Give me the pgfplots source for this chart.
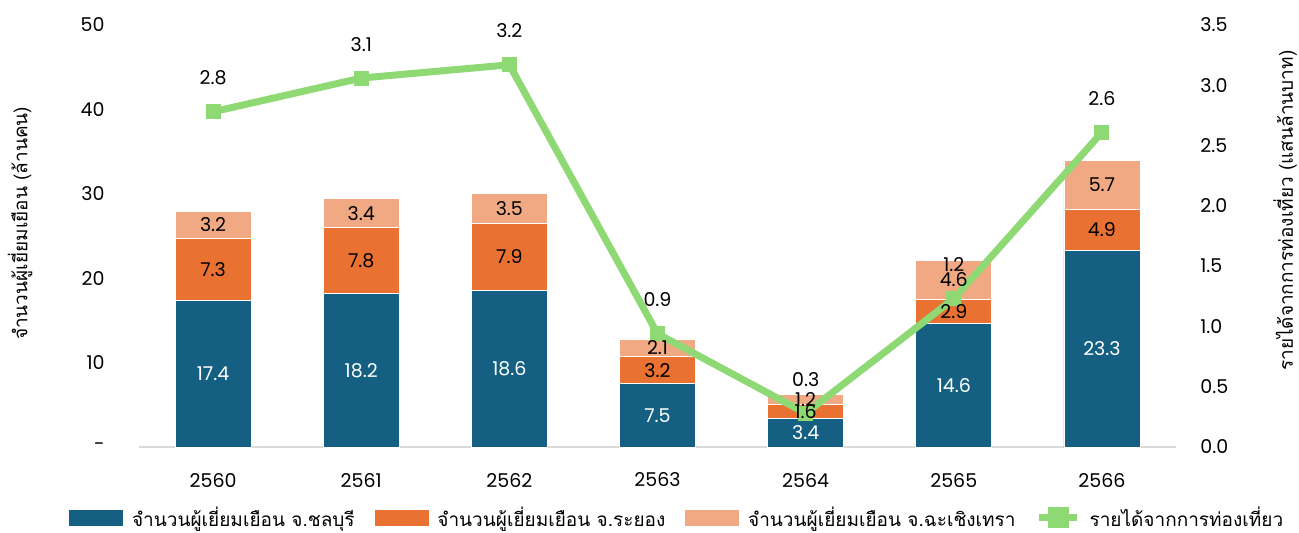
\documentclass[border=0pt]{standalone}
\usepackage{fontspec}
\usepackage{pgfplots}
\usepackage{pgfplotstable}
\pgfplotsset{compat=1.18}
\setmainfont{Poppins}
\newfontfamily\thaifont[Script=Thai]{Loma}
\newcommand\f{\fontsize{9.5pt}{11pt}\selectfont}
\definecolor{c1}{HTML}{156082}
\definecolor{c2}{HTML}{E97132}
\definecolor{c3}{HTML}{F1A983}
\definecolor{c4}{HTML}{8ED973}
\definecolor{ax}{HTML}{D9D9D9}
\pgfplotstableread{
x a b c r
0 17.4 7.3 3.2 2.78
1 18.2 7.8 3.4 3.06
2 18.6 7.9 3.5 3.17
3 7.5 3.2 2.1 0.94
4 3.4 1.6 1.2 0.28
5 14.6 2.9 4.6 1.23
6 23.3 4.9 5.7 2.61
}\data
\pgfplotstablecreatecol[expr={\thisrow{a}/2}]{ya}{\data}
\pgfplotstablecreatecol[expr={\thisrow{a}+\thisrow{b}/2}]{yb}{\data}
\pgfplotstablecreatecol[expr={\thisrow{a}+\thisrow{b}+\thisrow{c}/2}]{yc}{\data}
\pgfplotsset{
  base/.style={scale only axis, width=518.5pt, height=211pt, at={(0,0)}, anchor=south west,
    xmin=-0.5, xmax=6.5, major tick length=0pt},
  lbl/.style={nodes near coords={\pgfmathprintnumber[fixed,fixed zerofill,precision=1,assume math mode=true]{\pgfplotspointmeta}},
    every node near coord/.append style={anchor=center, font=\f, inner sep=0pt}},
}
\begin{document}
\begin{tikzpicture}
\useasboundingbox (-69.5pt,-42.5pt) rectangle (580pt,223.5pt);
\begin{axis}[base,
  ymin=0, ymax=50,
  ybar stacked, bar width=38pt,
  axis x line*=bottom, axis y line*=left,
  x axis line style={draw=ax, line width=1pt, -},
  y axis line style={draw=none},
  xtick={0,...,6}, xticklabels={2560,2561,2562,2563,2564,2565,2566},
  ytick={0,10,...,50}, yticklabels={{-\hspace{7pt}},10,20,30,40,50},
  tick label style={font=\f, inner sep=0pt},
  xticklabel style={anchor=center, yshift=-16.5pt},
  yticklabel style={anchor=east, xshift=-17pt},
  every axis y label/.style={at={(axis description cs:0,0.53)}, rotate=90, anchor=center, yshift=59.5pt},
  ylabel={\f\thaifont จำนวนผู้เยี่ยมเยือน (ล้านคน)},
]
\addplot[fill=c1, draw=white, line width=0.4pt] table[x=x,y=a]{\data};
\addplot[fill=c2, draw=white, line width=0.4pt] table[x=x,y=b]{\data};
\addplot[fill=c3, draw=white, line width=0.4pt] table[x=x,y=c]{\data};
\end{axis}
\begin{axis}[base,
  ymin=0, ymax=3.5,
  axis x line=none, axis y line*=right,
  y axis line style={draw=none},
  ytick={0,0.5,...,3.5},
  yticklabel style={font=\f, inner sep=0pt, anchor=west, xshift=12pt,
    /pgf/number format/.cd, fixed, fixed zerofill, precision=1, assume math mode=true},
  every axis y label/.style={at={(axis description cs:1,0.56)}, rotate=90, anchor=center, yshift=-54.5pt},
  ylabel={\f\thaifont รายได้จากการท่องเที่ยว (แสนล้านบาท)},
  legend style={at={(axis description cs:0.52,-0.168)}, anchor=center, draw=none, fill=none,
    font=\f\thaifont, legend columns=4, inner sep=0pt,
    /tikz/every even column/.append style={column sep=8pt},
    /tikz/every odd column/.append style={column sep=2.5pt}},
  legend cell align=left,
]
\addlegendimage{legend image code/.code={\fill[c1] (0pt,-3.75pt) rectangle (26.5pt,3.75pt);}}
\addlegendentry{จำนวนผู้เยี่ยมเยือน จ.ชลบุรี}
\addlegendimage{legend image code/.code={\fill[c2] (0pt,-3.75pt) rectangle (26.5pt,3.75pt);}}
\addlegendentry{จำนวนผู้เยี่ยมเยือน จ.ระยอง}
\addlegendimage{legend image code/.code={\fill[c3] (0pt,-3.75pt) rectangle (26.5pt,3.75pt);}}
\addlegendentry{จำนวนผู้เยี่ยมเยือน จ.ฉะเชิงเทรา}
\addplot[c4, line width=3.5pt, mark=square*, mark size=3.5pt, mark options={solid, line width=0pt, fill=c4},
  legend image code/.code={\draw[c4, line width=3.5pt] (0pt,0pt) -- (19pt,0pt); \fill[c4] (6pt,-3.5pt) rectangle (13pt,3.5pt);},
  lbl, point meta=explicit, every node near coord/.append style={black, yshift=17pt}]
  table[x=x,y=r,meta=r]{\data};
\addlegendentry{รายได้จากการท่องเที่ยว}
\end{axis}
\begin{axis}[base, ymin=0, ymax=50, hide axis]
\addplot[draw=none, mark=none, lbl, point meta=explicit, every node near coord/.append style={white}] table[x=x,y=ya,meta=a]{\data};
\addplot[draw=none, mark=none, lbl, point meta=explicit, every node near coord/.append style={black}] table[x=x,y=yb,meta=b]{\data};
\addplot[draw=none, mark=none, lbl, point meta=explicit, every node near coord/.append style={black}] table[x=x,y=yc,meta=c]{\data};
\end{axis}
\end{tikzpicture}
\end{document}
